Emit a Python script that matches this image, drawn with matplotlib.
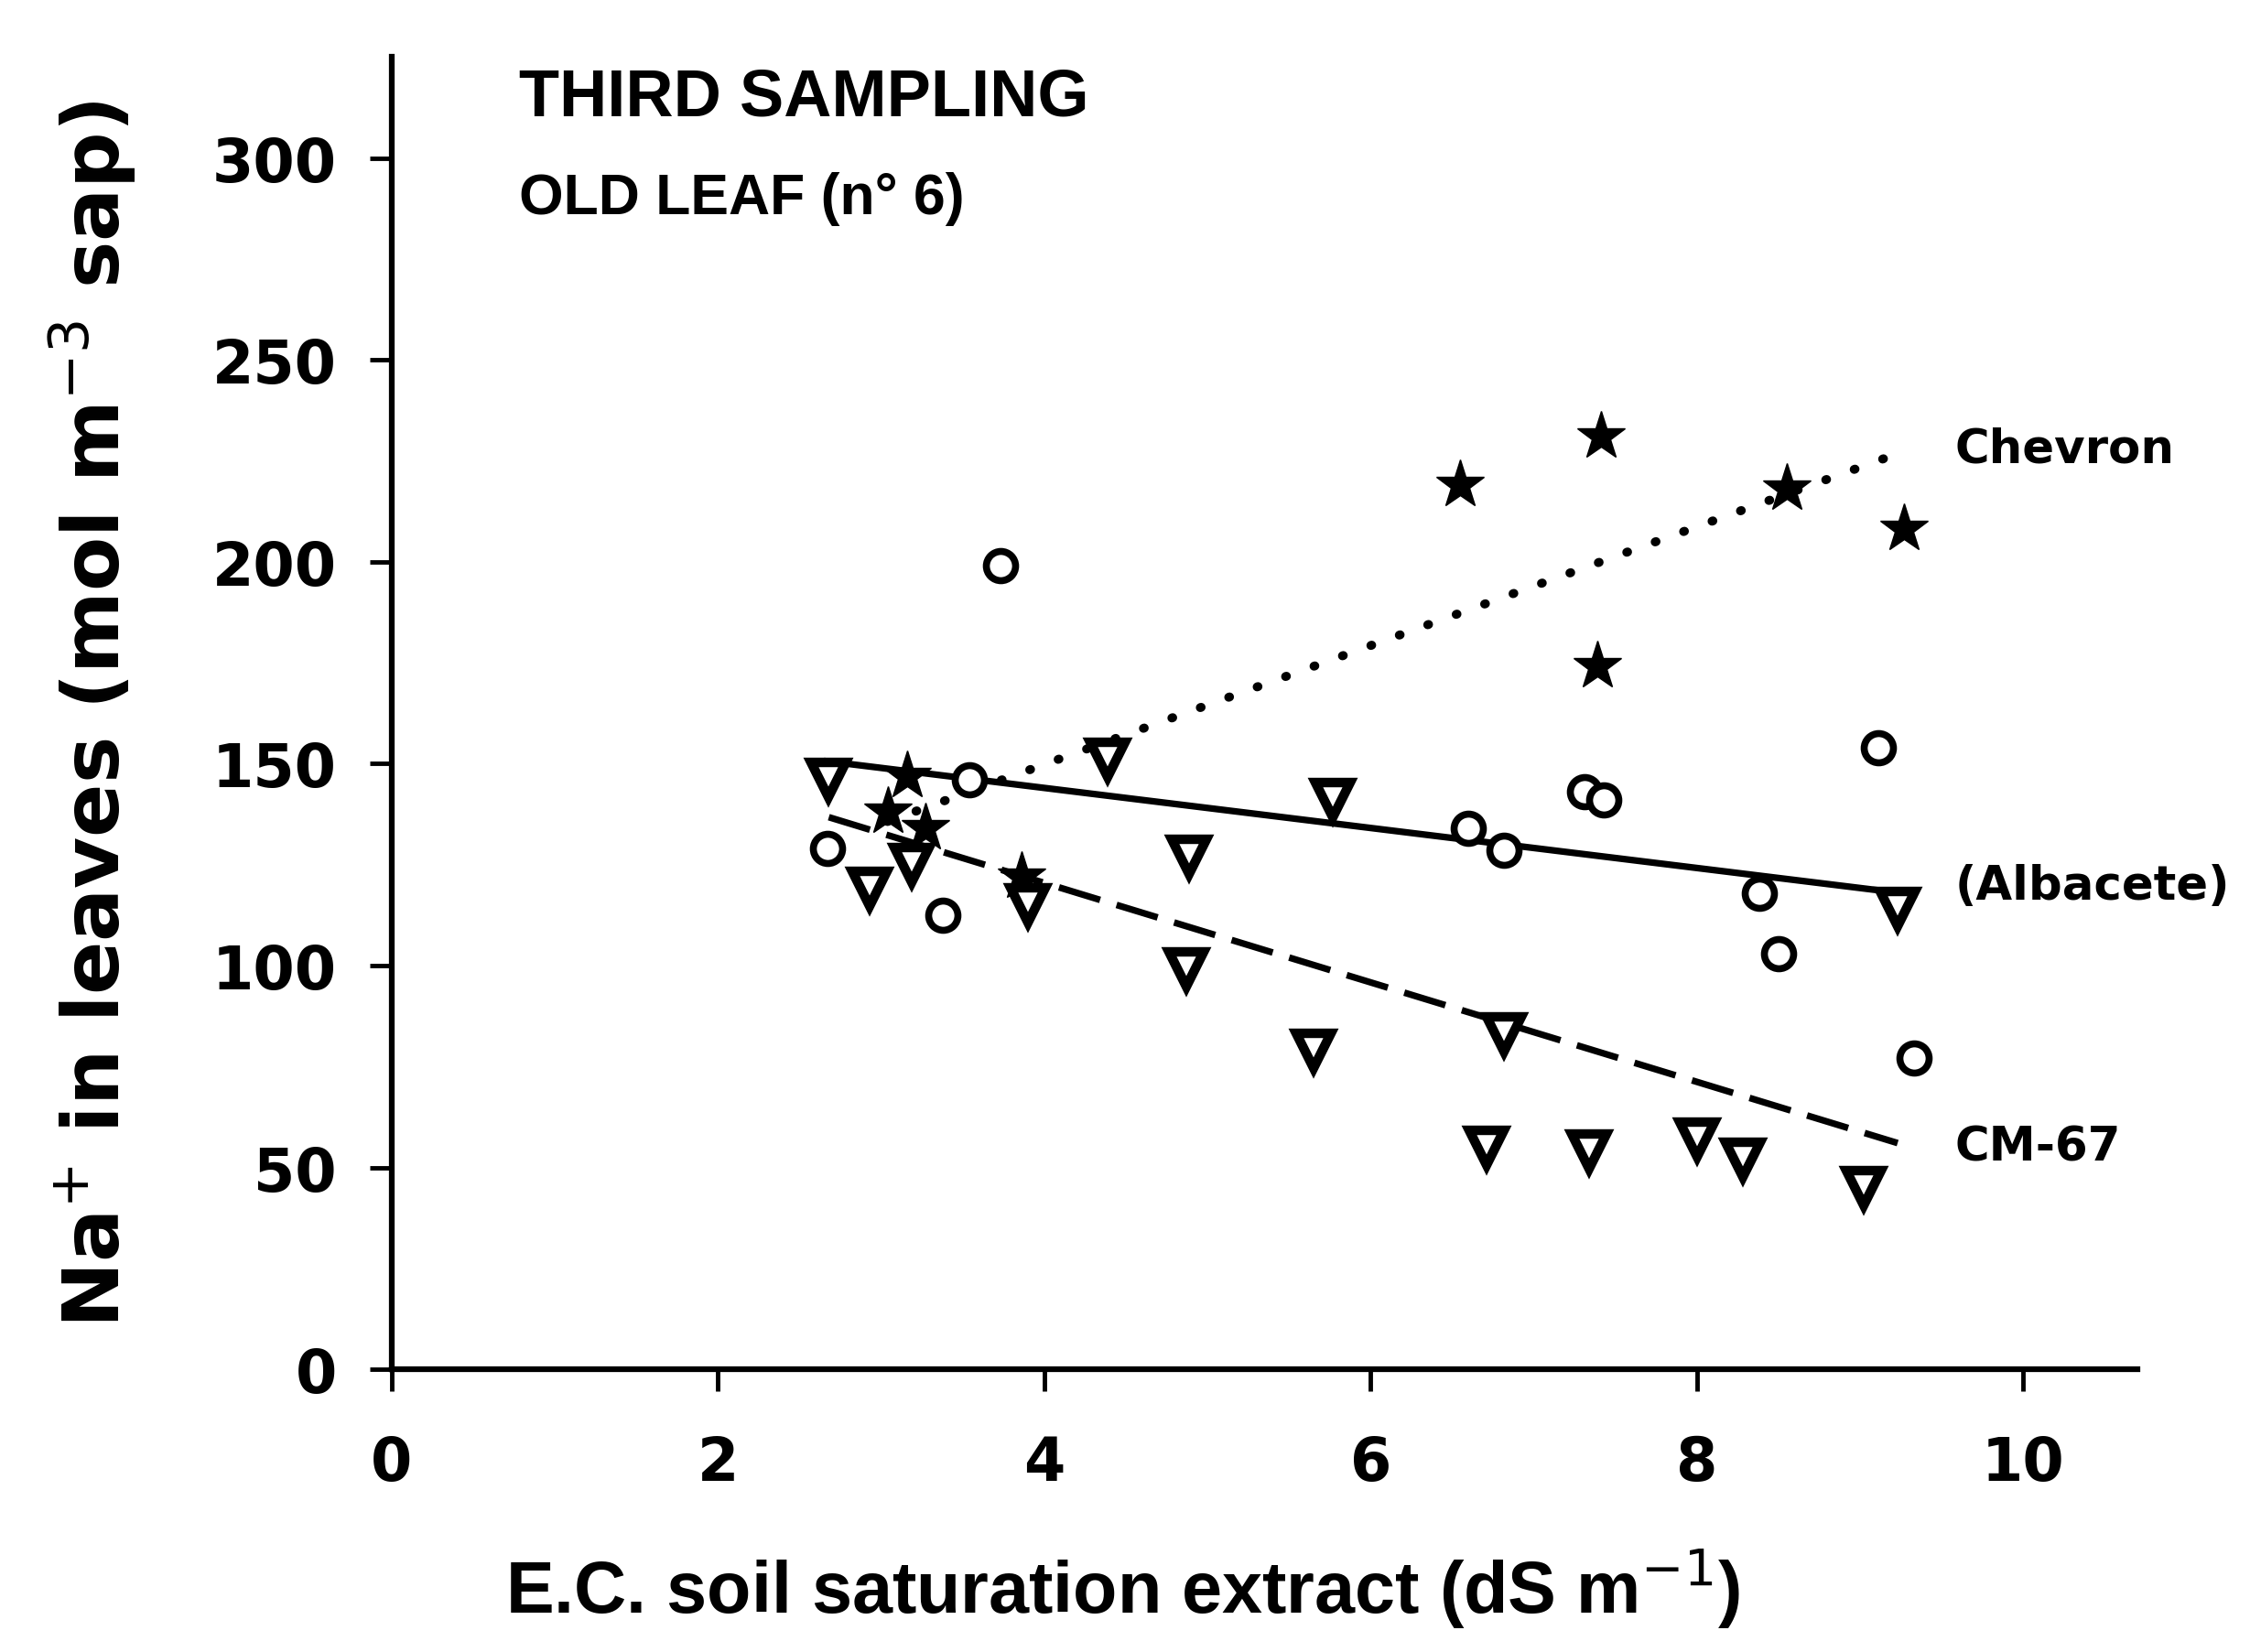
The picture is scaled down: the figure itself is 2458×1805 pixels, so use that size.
"""
Na+ in old leaves vs soil E.C. (third sampling)
"""

import matplotlib
matplotlib.use("Agg")
import matplotlib.pyplot as plt
import numpy as np

# Chevron (stars)
chevron_x = [3.04, 3.16, 3.27, 3.86, 6.55, 7.39, 7.41, 8.55, 9.27]
chevron_y = [138, 147, 134, 122, 219, 174, 231, 218, 208]

# Albacete (open circles)
albacete_x = [2.67, 3.38, 3.54, 3.73, 6.60, 6.82, 7.31, 7.43, 8.38, 8.50, 9.11, 9.33]
albacete_y = [129, 112.5, 146, 199, 134, 128.5, 143, 141, 118, 103, 154, 77]

# CM-67 (triangles)
cm67_x = [2.68, 2.93, 3.19, 3.90, 4.39, 4.89, 4.87, 5.77, 5.65, 6.82, 6.71,
          7.34, 8.00, 8.28, 9.02, 9.23]
cm67_y = [146, 119, 125, 115, 151, 127, 99, 141, 79, 83, 55, 54, 57, 52, 45, 114]

series_names = ["Chevron", "(Albacete)", "CM-67"]
x_ticks = [0, 2, 4, 6, 8, 10]
y_ticks = [0, 50, 100, 150, 200, 250, 300]

NARROW = ["Liberation Sans", "DejaVu Sans"]
WIDE = ["DejaVu Sans"]

fig = plt.figure(figsize=(24.58, 18.06), dpi=100)
ax = fig.add_axes([0.174, 0.171, 0.776, 0.794])


def fit_line(x, y):
    k, b = np.polyfit(x, y, 1)
    xs = np.array([min(x), max(x)])
    return xs, k * xs + b


lw = 5.2
xs, ys = fit_line(chevron_x, chevron_y)
ax.plot(xs, ys, color="black", lw=7, ls=(0, (0.1, 3.3)), dash_capstyle="round")
xs, ys = fit_line(albacete_x, albacete_y)
ax.plot(xs, ys, color="black", lw=lw, ls="-")
xs, ys = fit_line(cm67_x, cm67_y)
ax.plot(xs, ys, color="black", lw=lw, ls=(0, (6.5, 2.6)))

ax.plot(chevron_x, chevron_y, ls="none", marker="*", ms=40, color="black")
ax.plot(albacete_x, albacete_y, ls="none", marker="o", ms=23, mfc="white",
        mec="black", mew=5.5)
ax.plot(cm67_x, cm67_y, ls="none", marker="v", ms=28, mfc="white",
        mec="black", mew=7.5)

# series labels at the line ends
label_y = [228, 119.6, 55]
for name, yy in zip(series_names, label_y):
    ax.text(9.58, yy, name, family=WIDE, fontweight="bold", fontsize=37,
            va="center", ha="left", clip_on=False)

ax.text(0.78, 315, "THIRD SAMPLING", family=NARROW, fontweight="bold",
        fontsize=52, va="center", ha="left")
ax.text(0.78, 290, "OLD LEAF (n° 6)", family=NARROW, fontweight="bold",
        fontsize=45, va="center", ha="left")

ax.set_xlim(0, 10.7)
ax.set_ylim(0, 325)
ax.set_xticks(x_ticks)
ax.set_yticks(y_ticks)
for sp in ["top", "right"]:
    ax.spines[sp].set_visible(False)
for sp in ["left", "bottom"]:
    ax.spines[sp].set_linewidth(4.5)
ax.tick_params(direction="out", length=17, width=3.5, pad=26)
ax.tick_params(axis="x", pad=34)
for lab in ax.get_xticklabels() + ax.get_yticklabels():
    lab.set_family(WIDE)
    lab.set_fontweight("bold")
    lab.set_fontsize(47)

ax.set_xlabel("E.C. soil saturation extract (dS m$^{-1}$)", family=NARROW,
              fontweight="bold", fontsize=57)
ax.xaxis.set_label_coords(0.419, -0.135)
ax.set_ylabel("Na$^{+}$ in leaves (mol m$^{-3}$ sap)", family=WIDE,
              fontweight="bold", fontsize=62, labelpad=58)

fig.savefig("out.png", dpi=100)
